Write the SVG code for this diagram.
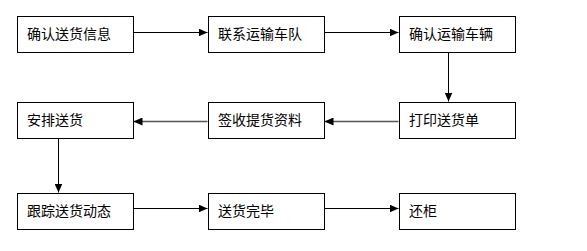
<svg xmlns="http://www.w3.org/2000/svg" width="587" height="251" viewBox="0 0 587 251">
<style>
.box{fill:#fff;stroke:#000;stroke-width:1}
.lbl{font-family:"Noto Sans CJK SC","Liberation Sans",sans-serif;font-size:14px;fill:#000}
.c{stroke:#000;stroke-width:1;fill:none;marker-end:url(#ah)}
.g{stroke:#555;stroke-width:1.6;fill:none;marker-end:url(#ah)}
</style>
<defs>
<marker id="ah" markerWidth="9" markerHeight="8" refX="9" refY="4" orient="auto" markerUnits="userSpaceOnUse">
<path d="M0,0 L9,4 L0,8 Z" fill="#000"/>
</marker>
</defs>
<rect width="587" height="251" fill="#fff"/>
<g id="connectors">
<line class="c" x1="133.5" y1="32.5" x2="207.5" y2="32.5"/>
<line class="c" x1="324.5" y1="32.5" x2="398.5" y2="32.5"/>
<line class="c" x1="448.5" y1="52.5" x2="448.5" y2="101.5"/>
<line class="g" x1="398.5" y1="121.5" x2="324.5" y2="121.5"/>
<line class="g" x1="207.5" y1="121.5" x2="133.5" y2="121.5"/>
<line class="c" x1="58.5" y1="138.5" x2="58.5" y2="192.5"/>
<line class="c" x1="133.5" y1="208.5" x2="207.5" y2="208.5"/>
<line class="c" x1="324.5" y1="208.5" x2="398.5" y2="208.5"/>
</g>
<g id="n1"><rect class="box" x="17.5" y="16.5" width="116" height="36"/><text class="lbl" x="27" y="39">确认送货信息</text></g>
<g id="n2"><rect class="box" x="208.5" y="16.5" width="116" height="36"/><text class="lbl" x="218" y="39">联系运输车队</text></g>
<g id="n3"><rect class="box" x="399.5" y="16.5" width="116" height="36"/><text class="lbl" x="409" y="39">确认运输车辆</text></g>
<g id="n4"><rect class="box" x="17.5" y="102.5" width="116" height="36"/><text class="lbl" x="27" y="125">安排送货</text></g>
<g id="n5"><rect class="box" x="208.5" y="102.5" width="116" height="36"/><text class="lbl" x="218" y="125">签收提货资料</text></g>
<g id="n6"><rect class="box" x="399.5" y="102.5" width="116" height="36"/><text class="lbl" x="409" y="125">打印送货单</text></g>
<g id="n7"><rect class="box" x="17.5" y="193.5" width="116" height="36"/><text class="lbl" x="27" y="216">跟踪送货动态</text></g>
<g id="n8"><rect class="box" x="208.5" y="193.5" width="116" height="36"/><text class="lbl" x="218" y="216">送货完毕</text></g>
<g id="n9"><rect class="box" x="399.5" y="193.5" width="116" height="36"/><text class="lbl" x="409" y="216">还柜</text></g>
</svg>
